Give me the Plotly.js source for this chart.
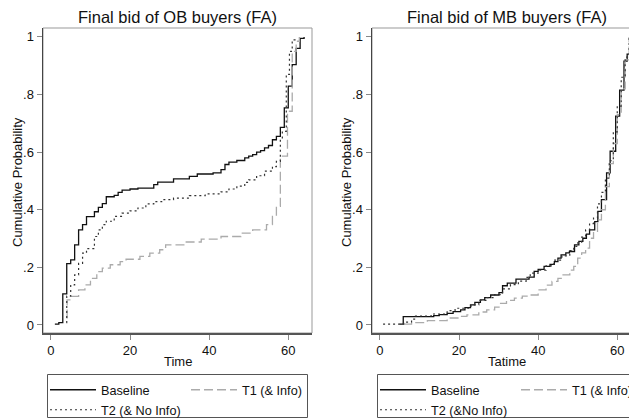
<!DOCTYPE html>
<html>
<head>
<meta charset="utf-8">
<script src="https://cdn.plot.ly/plotly-3.0.1.min.js"></script>
<style>
  html, body { margin: 0; padding: 0; overflow: hidden; background: #fff; }
  #chart { width: 660px; height: 419px; }
</style>
</head>
<body>
<div id="chart"></div>
<script>
// ---------- data ----------
const panelTitles = ["Final bid of OB buyers (FA)", "Final bid of MB buyers (FA)"];
const xTitles = ["Time", "Tatime"];
const yTitle = "Cumulative Probability";
const seriesNames = ["Baseline", "T1 (& Info)", "T2 (& No Info)"];
const seriesNamesRight = ["Baseline", "T1 (& Info)", "T2 (&No Info)"];
const yTickVals = [0, 0.2, 0.4, 0.6, 0.8, 1];
const yTickText = ["0", ".2", ".4", ".6", ".8", "1"];
const xTickVals = [0, 20, 40, 60];

// Left panel: OB buyers
const obBaselineTime = [1, 2, 3, 4, 5, 6, 7, 8, 9, 11, 12, 13, 14, 16, 17, 18, 20, 22, 26, 27, 31, 35, 37, 41, 43, 44, 45, 47, 49, 50, 51, 52, 53, 54, 55, 56, 57, 58, 59, 60, 61, 62, 63, 64];
const obBaselineProb = [0.003, 0.008, 0.108, 0.213, 0.226, 0.278, 0.33, 0.348, 0.376, 0.393, 0.408, 0.421, 0.445, 0.45, 0.46, 0.468, 0.472, 0.475, 0.487, 0.496, 0.507, 0.516, 0.524, 0.528, 0.539, 0.557, 0.565, 0.571, 0.58, 0.586, 0.591, 0.6, 0.605, 0.615, 0.623, 0.643, 0.655, 0.686, 0.754, 0.829, 0.904, 0.96, 0.995, 1.0];

const obT1Time = [3.9, 4.1, 5, 7, 8.6, 10, 11.6, 13, 15, 17.5, 19, 22.5, 25, 27.5, 29, 34, 38, 43, 48, 51, 54.5, 56, 57, 58, 59.8, 61, 62, 62.8];
const obT1Prob = [0.025, 0.087, 0.099, 0.122, 0.139, 0.162, 0.185, 0.197, 0.209, 0.22, 0.228, 0.238, 0.249, 0.261, 0.278, 0.288, 0.298, 0.307, 0.319, 0.33, 0.348, 0.377, 0.412, 0.586, 0.742, 0.95, 0.985, 1.0];

const obT2Time = [3.9, 4, 5, 6, 7, 8, 9, 11, 12, 13, 14, 16, 18, 20, 22, 24, 26, 28, 31, 35, 39, 43, 45, 47, 49, 50, 52, 54, 56, 57, 58, 58.5, 59.5, 60.3, 61, 61.7];
const obT2Prob = [0.008, 0.1, 0.139, 0.174, 0.214, 0.249, 0.265, 0.307, 0.33, 0.348, 0.36, 0.377, 0.388, 0.396, 0.406, 0.42, 0.428, 0.435, 0.44, 0.449, 0.455, 0.462, 0.472, 0.482, 0.495, 0.504, 0.518, 0.534, 0.55, 0.568, 0.649, 0.672, 0.87, 0.95, 0.99, 1.0];

// Right panel: MB buyers
const mbBaselineTime = [5, 5.9, 13.6, 15, 17, 18.5, 20.4, 21.5, 22.9, 24, 25.4, 26.5, 28, 30.1, 31, 32.2, 34.4, 37.7, 39, 40, 41.5, 43, 44.1, 45, 45.8, 47, 47.9, 49.2, 50.3, 51.3, 52.2, 53, 54.3, 55.1, 56, 57.3, 58.2, 59.6, 60.6, 61.7, 62.5, 63.2];
const mbBaselineProb = [0.003, 0.029, 0.032, 0.036, 0.04, 0.046, 0.052, 0.06, 0.07, 0.078, 0.087, 0.095, 0.104, 0.112, 0.136, 0.145, 0.159, 0.166, 0.186, 0.193, 0.203, 0.21, 0.22, 0.232, 0.243, 0.25, 0.255, 0.278, 0.29, 0.301, 0.315, 0.33, 0.359, 0.394, 0.435, 0.528, 0.603, 0.725, 0.815, 0.916, 0.94, 1.0];

const mbT1Time = [6, 8, 12, 17, 20, 22, 25, 27, 29, 30.5, 32, 34, 36, 37.5, 40, 42, 43.5, 45, 46, 48, 49, 50, 51, 52, 53, 54, 55, 56, 57, 58, 59, 60, 61, 62, 63];
const mbT1Prob = [0.003, 0.008, 0.015, 0.024, 0.03, 0.035, 0.045, 0.052, 0.062, 0.075, 0.085, 0.093, 0.1, 0.104, 0.122, 0.138, 0.151, 0.162, 0.174, 0.19, 0.203, 0.232, 0.25, 0.267, 0.301, 0.325, 0.365, 0.4, 0.48, 0.56, 0.63, 0.73, 0.82, 0.92, 1.0];

const mbT2Time = [0.8, 6, 8, 9, 13, 17, 19, 23, 25, 27, 29, 31, 33, 35, 37, 38, 40, 42, 44, 46, 48, 49, 50, 51, 52, 53, 54, 55, 56, 57, 58, 59, 60, 61, 62, 63];
const mbT2Prob = [0.003, 0.01, 0.02, 0.031, 0.038, 0.05, 0.058, 0.07, 0.085, 0.095, 0.105, 0.125, 0.14, 0.152, 0.165, 0.18, 0.19, 0.205, 0.225, 0.24, 0.258, 0.273, 0.285, 0.305, 0.33, 0.352, 0.371, 0.42, 0.46, 0.51, 0.57, 0.67, 0.76, 0.86, 0.93, 1.0];

// ---------- geometry helpers (pixels -> paper) ----------
const W = 660, H = 419, ML = 43, MR = 19, MT = 28, MB = 86;
const PW = W - ML - MR, PH = H - MT - MB;
const px = v => (v - ML) / PW;
const py = v => (H - MB - v) / PH;

const FONT = "Liberation Sans, Arial, Helvetica, sans-serif";
const TXT = "#111111";

const styles = {
  base: { color: "#111111", width: 1.3, dash: "solid" },
  t1:   { color: "#ababab", width: 1.3, dash: "9px,4px" },
  t2:   { color: "#333333", width: 1.2, dash: "2px,3px" }
};

function trace(x, y, name, st, xa, ya, leg) {
  return {
    type: "scatter", mode: "lines", x: x, y: y, name: name,
    line: { color: st.color, width: st.width, dash: st.dash, shape: "hv" },
    xaxis: xa, yaxis: ya, legend: leg, hoverinfo: "skip"
  };
}

const data = [
  trace(obBaselineTime, obBaselineProb, seriesNames[0], styles.base, "x", "y", "legend"),
  trace(obT1Time, obT1Prob, seriesNames[1], styles.t1, "x", "y", "legend"),
  trace(obT2Time, obT2Prob, seriesNames[2], styles.t2, "x", "y", "legend2"),
  trace(mbBaselineTime, mbBaselineProb, seriesNamesRight[0], styles.base, "x2", "y2", "legend3"),
  trace(mbT1Time, mbT1Prob, seriesNamesRight[1], styles.t1, "x2", "y2", "legend3"),
  trace(mbT2Time, mbT2Prob, seriesNamesRight[2], styles.t2, "x2", "y2", "legend4")
];

function xAxis(domain, anchor) {
  return {
    domain: domain, range: [-2, 66], anchor: anchor,
    tickvals: xTickVals, ticks: "outside", ticklen: 5, tickwidth: 1, tickcolor: "#888",
    showline: true, linecolor: "#555", linewidth: 1.5,
    showgrid: false, zeroline: false,
    tickfont: { family: FONT, size: 13, color: TXT },
    automargin: false, fixedrange: true
  };
}
function yAxis(anchor) {
  return {
    domain: [0, 1], range: [-0.028, 1.031], anchor: anchor,
    tickvals: yTickVals, ticktext: yTickText, ticks: "outside", ticklen: 5, tickwidth: 1, tickcolor: "#888",
    showline: true, linecolor: "#444", linewidth: 1.5,
    showgrid: false, zeroline: false,
    tickfont: { family: FONT, size: 13, color: TXT },
    automargin: false, fixedrange: true
  };
}

const leftDom = [0, px(312)];
const rightDom = [px(372), 1];

function legendCfg(xpix, ytop) {
  return {
    orientation: "h", x: px(xpix), xanchor: "left", y: py(ytop), yanchor: "top",
    xref: "paper", yref: "paper",
    bgcolor: "rgba(0,0,0,0)", borderwidth: 0, entrywidth: 80, entrywidthmode: "pixels",
    itemwidth: 46, tracegroupgap: 0, itemclick: false, itemdoubleclick: false,
    font: { family: FONT, size: 12.7, color: TXT }
  };
}

function ann(text, xp, yp, size, angle) {
  return { text: text, xref: "paper", yref: "paper", x: xp, y: yp, xanchor: "center", yanchor: "middle",
           showarrow: false, textangle: angle || 0, font: { family: FONT, size: size, color: TXT } };
}

const layout = {
  width: W, height: H,
  margin: { l: ML, r: MR, t: MT, b: MB, autoexpand: false },
  paper_bgcolor: "#fff", plot_bgcolor: "#fff",
  showlegend: true,
  xaxis: xAxis(leftDom, "y"),
  yaxis: yAxis("x"),
  xaxis2: xAxis(rightDom, "y2"),
  yaxis2: yAxis("x2"),
  legend: legendCfg(45, 375),
  legend2: legendCfg(45, 395),
  legend3: legendCfg(375, 375),
  legend4: legendCfg(375, 395),
  annotations: [
    ann(panelTitles[0], (leftDom[0] + leftDom[1]) / 2, py(17), 16.5),
    ann(panelTitles[1], (rightDom[0] + rightDom[1]) / 2, py(17), 16.5),
    ann(xTitles[0], (leftDom[0] + leftDom[1]) / 2, py(361), 13),
    ann(xTitles[1], (rightDom[0] + rightDom[1]) / 2, py(361), 13),
    ann(yTitle, px(18), py(182), 13, -90),
    ann(yTitle, px(347), py(182), 13, -90)
  ],
  shapes: [
    // plot region frames (top/right)
    { type: "rect", xref: "x domain", yref: "y domain", x0: 0, x1: 1, y0: 0, y1: 1, line: { color: "#999", width: 1 }, layer: "below" },
    { type: "rect", xref: "x2 domain", yref: "y2 domain", x0: 0, x1: 1, y0: 0, y1: 1, line: { color: "#999", width: 1 }, layer: "below" },
    // legend boxes
    { type: "rect", xref: "paper", yref: "paper", x0: px(47.5), x1: px(307.5), y0: py(374.5), y1: py(417.5), line: { color: "#555", width: 1 } },
    { type: "rect", xref: "paper", yref: "paper", x0: px(377.5), x1: px(637.5), y0: py(374.5), y1: py(417.5), line: { color: "#555", width: 1 } }
  ]
};

Plotly.newPlot("chart", data, layout, { staticPlot: true, displayModeBar: false });
</script>
</body>
</html>
